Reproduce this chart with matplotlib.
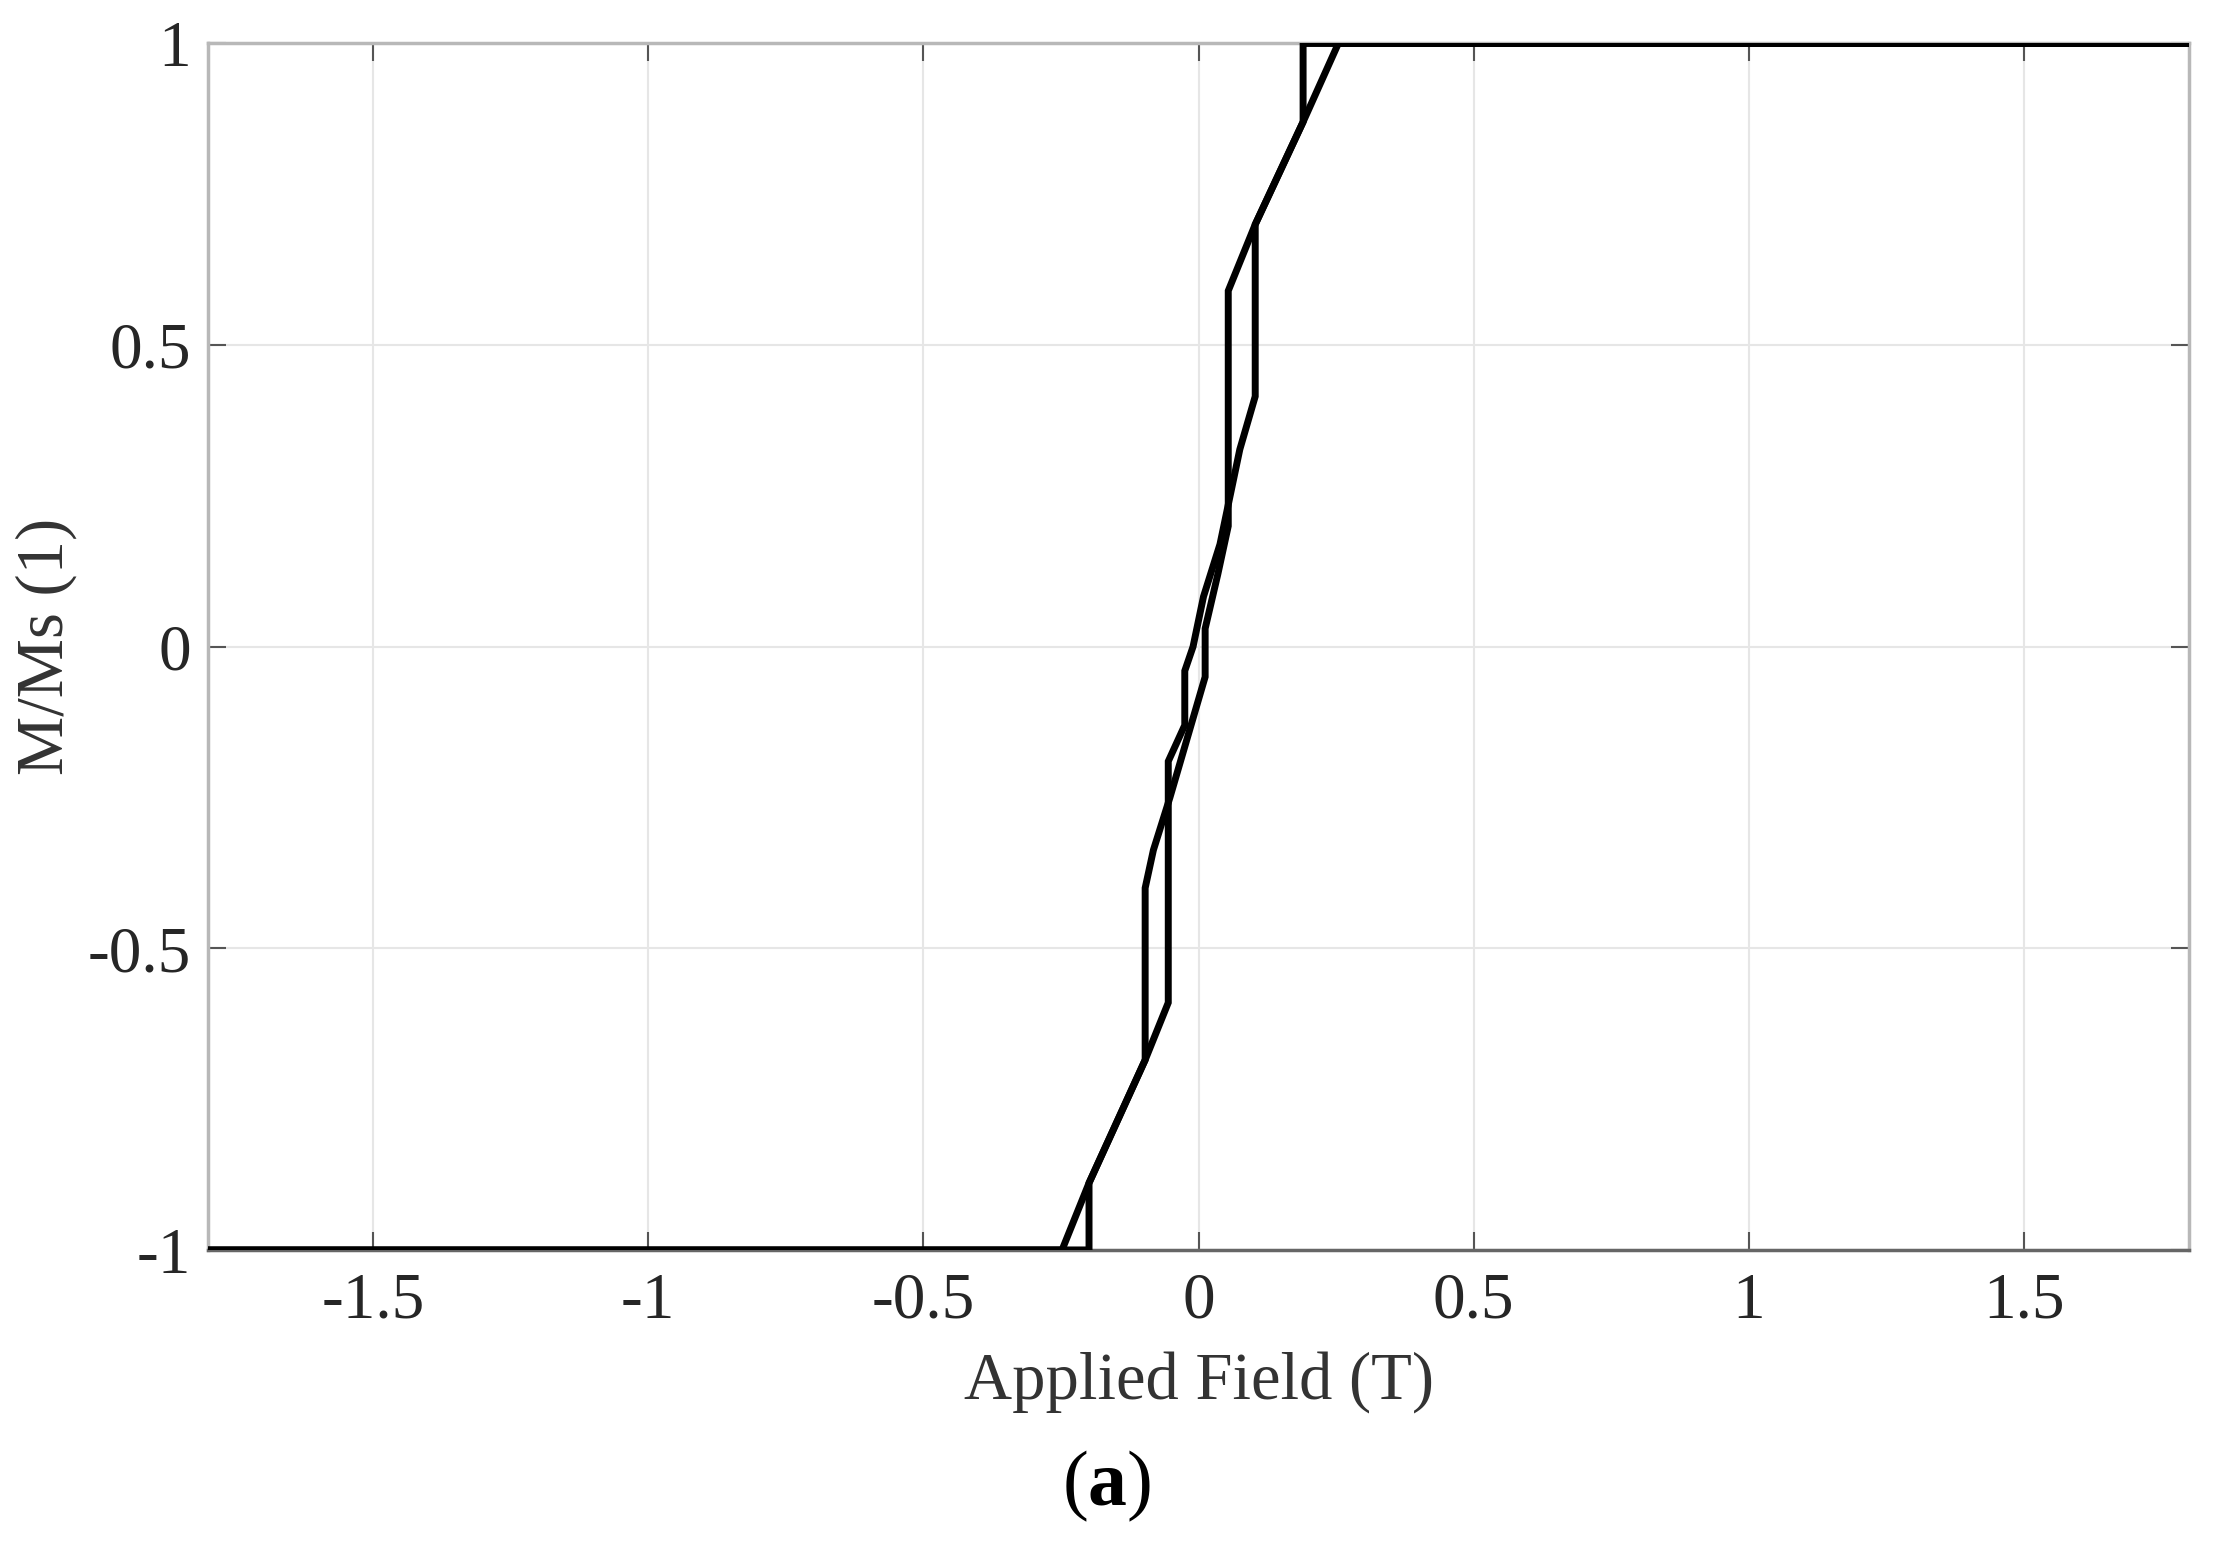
import matplotlib
matplotlib.use("Agg")
import matplotlib.pyplot as plt

# Descending branch (field decreasing from +1.8 T)
field_desc = [1.8, 0.254, 0.19, 0.103, 0.054, 0.054, 0.035, 0.012, 0.012,
              -0.02, -0.052, -0.082, -0.097, -0.097, -0.199, -0.199, -1.8]
mag_desc = [1.0, 1.0, 0.87, 0.70, 0.59, 0.20, 0.12, 0.03, -0.05,
            -0.15, -0.25, -0.337, -0.40, -0.685, -0.889, -1.0, -1.0]

# Ascending branch (field increasing from -1.8 T)
field_asc = [-1.8, -0.248, -0.199, -0.097, -0.055, -0.055, -0.025, -0.025,
             -0.01, 0.009, 0.039, 0.075, 0.103, 0.103, 0.19, 0.19, 1.8]
mag_asc = [-1.0, -1.0, -0.889, -0.685, -0.59, -0.19, -0.13, -0.04,
           0.0, 0.083, 0.17, 0.327, 0.415, 0.70, 0.87, 1.0, 1.0]

x_ticks = [-1.5, -1, -0.5, 0, 0.5, 1, 1.5]
x_ticklabels = ["-1.5", "-1", "-0.5", "0", "0.5", "1", "1.5"]
y_ticks = [-1, -0.5, 0, 0.5, 1]
y_ticklabels = ["-1", "-0.5", "0", "0.5", "1"]

plt.rcParams['font.family'] = ['Liberation Serif', 'DejaVu Serif']
plt.rcParams['mathtext.fontset'] = 'custom'
plt.rcParams['mathtext.bf'] = 'Liberation Serif:bold'
plt.rcParams['mathtext.rm'] = 'Liberation Serif'

fig = plt.figure(figsize=(22.15, 15.42), dpi=100)
ax = fig.add_axes([0.0939, 0.1894, 0.8944, 0.7824])

ax.plot(field_desc, mag_desc, color='black', lw=5.0, solid_joinstyle='miter', zorder=3)
ax.plot(field_asc, mag_asc, color='black', lw=5.0, solid_joinstyle='miter', zorder=3)

ax.set_xlim(-1.8, 1.8)
ax.set_ylim(-1, 1)
ax.set_xticks(x_ticks)
ax.set_xticklabels(x_ticklabels)
ax.set_yticks(y_ticks)
ax.set_yticklabels(y_ticklabels)

ax.grid(True, color='#e6e6e6', lw=1.5, zorder=0)
ax.set_axisbelow(True)

for side in ['left', 'top', 'right']:
    ax.spines[side].set_color('#b8b8b8')
    ax.spines[side].set_linewidth(2.5)
ax.spines['bottom'].set_color('#666666')
ax.spines['bottom'].set_linewidth(2.5)

ax.tick_params(axis='both', direction='in', length=13, width=1.5, color='#555555',
               labelsize=47, labelcolor='#262626', top=True, right=True)
ax.tick_params(axis='x', pad=16)
ax.tick_params(axis='y', pad=12)

ax.set_xlabel('Applied Field (T)', fontsize=48, color='#333333', labelpad=14)
ax.set_ylabel('M/Ms (1)', fontsize=48, color='#333333', labelpad=8)

fig.text(0.4998, 0.036, r'($\mathbf{a}$)', fontsize=56, ha='center', va='center', color='black')

fig.savefig('out.png', dpi=100, facecolor='white')
